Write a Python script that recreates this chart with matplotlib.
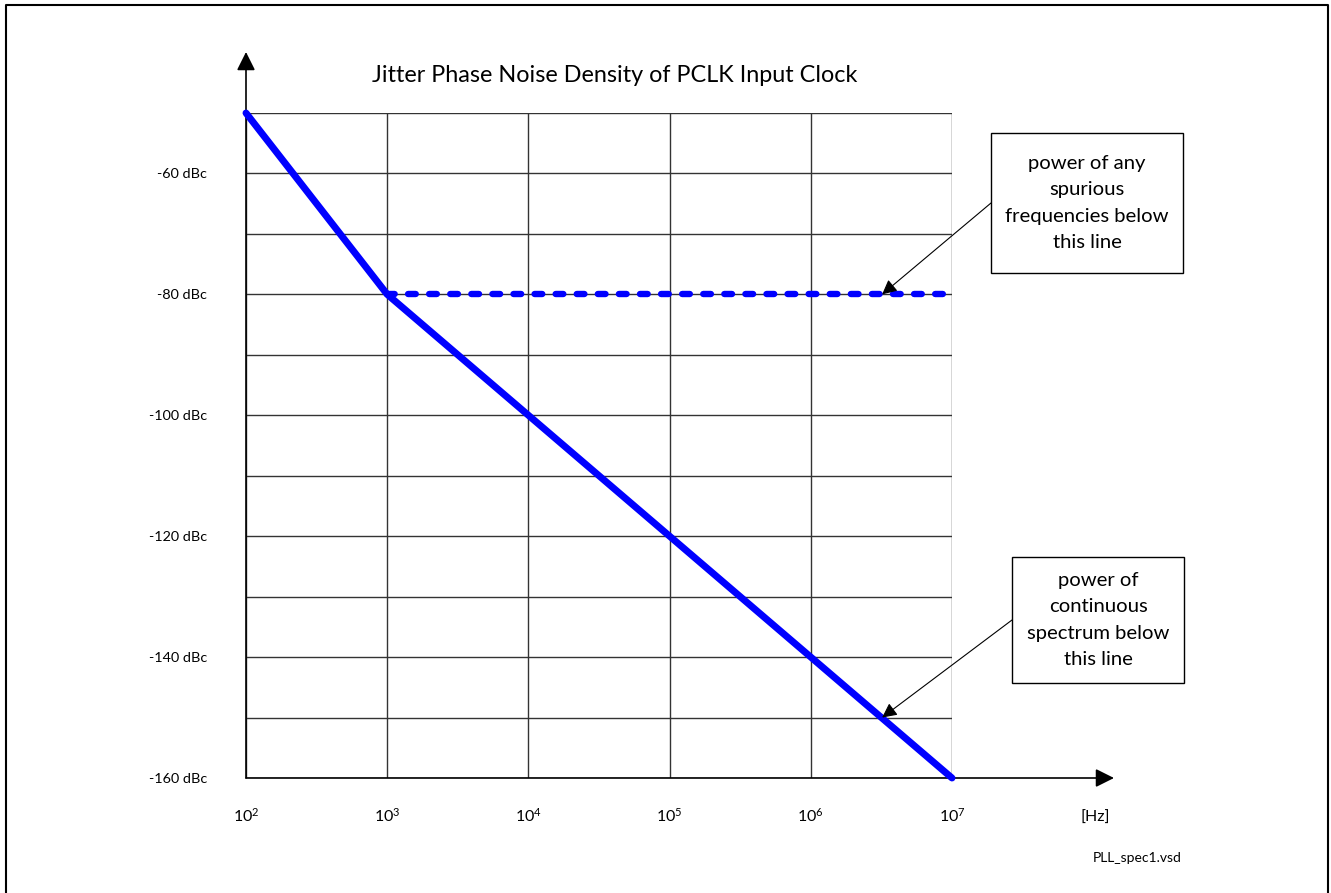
import matplotlib
matplotlib.use('Agg')
import matplotlib.pyplot as plt
from matplotlib.lines import Line2D
from matplotlib.patches import Rectangle

plt.rcParams['font.family'] = ['Lato', 'DejaVu Sans']
plt.rcParams['mathtext.fontset'] = 'custom'
plt.rcParams['mathtext.rm'] = 'Lato'

# data
limit_freq = [1e2, 1e3, 1e7]
limit_dbc = [-50, -80, -160]
spur_freq = [1e3, 1e7]
spur_dbc = [-80, -80]
x_ticks = [1e2, 1e3, 1e4, 1e5, 1e6, 1e7]
x_labels = [r'$\mathregular{10^{%d}}$' % e for e in range(2, 8)]
y_ticks = list(range(-160, -40, 10))
y_labels = [f'{v} dBc' if v % 20 == 0 and v != -50 else '' for v in y_ticks]

W, H = 1331, 893
fig = plt.figure(figsize=(W / 100, H / 100), dpi=100)
ax = fig.add_axes([246 / W, 1 - 778 / H, (952 - 246) / W, (778 - 113) / H])

ax.set_xscale('log')
ax.set_xlim(1e2, 1e7)
ax.set_ylim(-160, -50)
ax.set_xticks(x_ticks)
ax.set_xticklabels(x_labels, fontsize=11.5)
ax.xaxis.set_minor_locator(matplotlib.ticker.NullLocator())
ax.set_yticks(y_ticks)
ax.set_yticklabels(y_labels, fontsize=10.4)
ax.tick_params(axis='x', length=0, pad=21)
ax.tick_params(axis='y', length=0, pad=28)
for s in ax.spines.values():
    s.set_visible(False)
ax.grid(True, color='#333333', lw=1.0)
ax.set_axisbelow(True)

# limit lines
ax.plot(limit_freq, limit_dbc, color='#0000FF', lw=5, solid_capstyle='round',
        solid_joinstyle='round', zorder=4, clip_on=False)
ax.plot(spur_freq, spur_dbc, color='#0000FF', lw=4.6, dashes=(1.2, 2.1),
        dash_capstyle='round', zorder=4, clip_on=False)

# axes with arrows
ax.annotate('', xy=(0, (778 - 52) / 665), xytext=(0, 0), xycoords='axes fraction',
            arrowprops=dict(arrowstyle='-|>', mutation_scale=28, lw=1.2, color='black',
                            shrinkA=0, shrinkB=0), annotation_clip=False)
ax.annotate('', xy=((1114 - 246) / 706, 0), xytext=(0, 0), xycoords='axes fraction',
            arrowprops=dict(arrowstyle='-|>', mutation_scale=28, lw=1.2, color='black',
                            shrinkA=0, shrinkB=0), annotation_clip=False)

def px(x, y):
    return (x / W, 1 - y / H)

# text
fig.text(*px(615, 76), 'Jitter Phase Noise Density of PCLK Input Clock', fontsize=16.8,
         ha='center', va='center')
fig.text(*px(1095, 818), '[Hz]', fontsize=11.5, ha='center', va='center')
fig.text(*px(1137, 858), 'PLL_spec1.vsd', fontsize=10, ha='center', va='center')

# callout boxes
boxes = [
    ((991, 133, 1183, 273), 'power of any\nspurious\nfrequencies below\nthis line', (3.2e6, -80)),
    ((1012, 557, 1184, 683), 'power of\ncontinuous\nspectrum below\nthis line', (3.2e6, -150)),
]
for (x0, y0, x1, y1), txt, tip in boxes:
    fig.add_artist(Rectangle(px(x0, y1), (x1 - x0) / W, (y1 - y0) / H, fill=False,
                             ec='black', lw=1.0, transform=fig.transFigure))
    fig.text(*px((x0 + x1) / 2, (y0 + y1) / 2), txt, fontsize=14.6, ha='center',
             va='center', linespacing=1.65)
    ax.annotate('', xy=tip, xytext=px(x0, (y0 + y1) / 2), textcoords='figure fraction',
                arrowprops=dict(arrowstyle='-|>', mutation_scale=22, lw=0.8, color='black',
                                shrinkA=0, shrinkB=0), annotation_clip=False, zorder=5)

# outer frame (open at the bottom)
fig.add_artist(Line2D([6 / W, 6 / W, 1328 / W, 1328 / W], [0, 1 - 5 / H, 1 - 5 / H, 0],
                      color='black', lw=1.5, transform=fig.transFigure))

fig.savefig('out.png', dpi=100)
plt.close(fig)
